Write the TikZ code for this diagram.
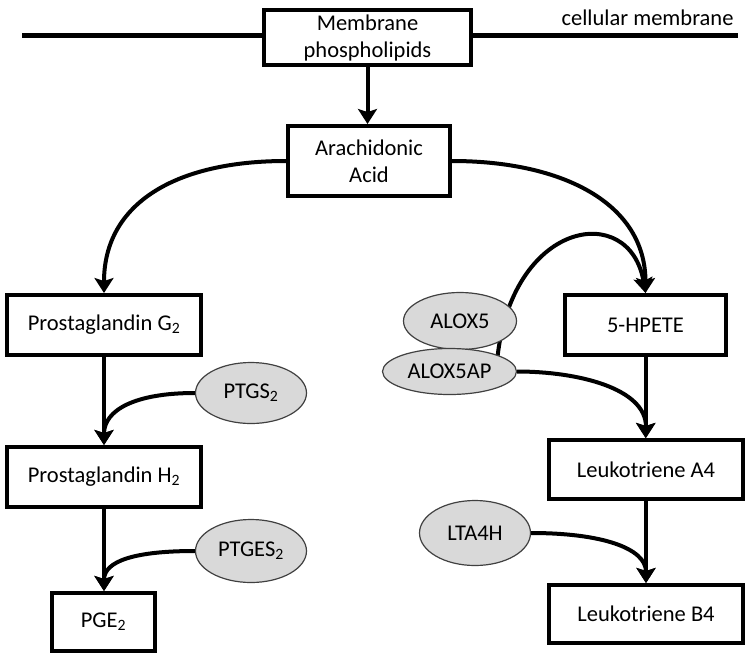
\documentclass[tikz,border=0pt]{standalone}
\usepackage{fontspec}
\setmainfont{Carlito}
\usetikzlibrary{arrows.meta,shapes.geometric}
\begin{document}
\begin{tikzpicture}[x=1pt,y=-1pt,
  txt/.style={font=\fontsize{22.5}{27}\selectfont},
  box/.style={txt,draw,line width=4pt,fill=white,inner sep=0pt,align=center},
  enz/.style={txt,ellipse,draw=black!75,line width=1.2pt,fill=black!15,inner sep=0pt},
  flow/.style={line width=4pt,-{Stealth[width=19pt,length=15pt,inset=3pt]}}]
\useasboundingbox (0,0) rectangle (750,659);
% membrane
\coordinate (ml) at (22,35);
\coordinate (mr) at (738,35);
\draw[line width=5pt] (ml) -- (mr);
\node[txt,anchor=east] (cm) at (737,18) {cellular membrane};
% boxes
\node[box,minimum width=207,minimum height=55] (mem) at (367.5,37.5) {Membrane\\phospholipids};
\node[box,minimum width=162,minimum height=70] (aa) at (369,161) {Arachidonic\\Acid};
\node[box,minimum width=194,minimum height=60] (pg2) at (104,325) {Prostaglandin G\textsubscript{2}};
\node[box,minimum width=194,minimum height=60] (ph2) at (104,477) {Prostaglandin H\textsubscript{2}};
\node[box,minimum width=103,minimum height=58] (pge) at (103.5,622) {PGE\textsubscript{2}};
\node[box,minimum width=161,minimum height=60] (hpete) at (645.5,325) {5-HPETE};
\node[box,minimum width=194,minimum height=59] (la4) at (646,469.5) {Leukotriene A4};
\node[box,minimum width=194,minimum height=58] (lb4) at (646,614) {Leukotriene B4};
% ALOX5 curve (passes behind the enzymes)
\coordinate (a5s) at (497,362);
\draw[flow] (a5s) .. controls (510,220) and (630,200) .. (hpete.north);
% enzymes
\node[enz,minimum width=111,minimum height=61] (ptgs) at (251,393) {PTGS\textsubscript{2}};
\node[enz,minimum width=111,minimum height=63] (ptges) at (251,551) {PTGES\textsubscript{2}};
\node[enz,minimum width=113,minimum height=57] (alox5) at (460,321) {ALOX5};
\node[enz,minimum width=134,minimum height=46] (alox5ap) at (449.5,371.5) {ALOX5AP};
\node[enz,minimum width=111,minimum height=65] (lta4h) at (475,533) {LTA4H};
% flows
\draw[flow] (mem.south) -- (mem.south |- aa.north);
\draw[flow] (aa.west) .. controls +(-110,0) and +(0,-90) .. (pg2.north);
\draw[flow] (aa.east) .. controls +(110,0) and +(0,-90) .. (hpete.north);
\draw[flow] (pg2.south) -- (ph2.north);
\draw[flow] (ph2.south) -- (ph2.south |- pge.north);
\draw[flow] (ptgs.west) .. controls +(-60,0) and +(0,-35) .. (ph2.north);
\draw[flow] (ptges.west) .. controls +(-60,0) and +(0,-30) .. (ph2.south |- pge.north);
\draw[flow] (hpete.south) -- (hpete.south |- la4.north);
\draw[flow] (alox5ap.east) .. controls +(60,0) and +(0,-50) .. (la4.north);
\draw[flow] (la4.south) -- (lb4.north);
\draw[flow] (lta4h.east) .. controls +(70,0) and +(0,-35) .. (lb4.north);
\end{tikzpicture}
\end{document}
